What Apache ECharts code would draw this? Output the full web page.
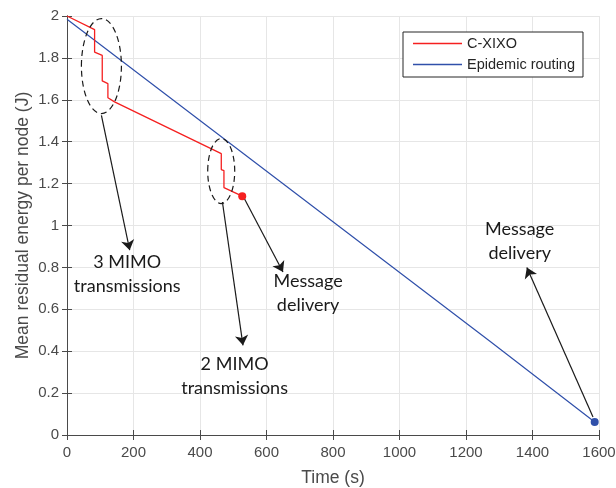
<!DOCTYPE html>
<html>
<head>
<meta charset="utf-8">
<script src="https://cdn.jsdelivr.net/npm/echarts@6/dist/echarts.min.js"></script>
<style>html,body{margin:0;padding:0;background:#fff}#c{width:616px;height:488px}</style>
</head>
<body>
<div id="c"></div>
<script>
// ---- data ----
var cxixoData = [[0,2.0],[83,1.935],[83,1.828],[106,1.812],[106,1.69],[123,1.677],[123,1.61],[143,1.59],[464,1.343],[464,1.267],[472,1.262],[472,1.181],[476,1.178],[527,1.14]];
var epidemicData = [[0,1.984],[1270,0.45],[1587,0.062]];
var xTicks = [0,200,400,600,800,1000,1200,1400,1600];
var yTicks = [0,0.2,0.4,0.6,0.8,1,1.2,1.4,1.6,1.8,2];
var seriesNames = ['C-XIXO','Epidemic routing'];
// annotations (data units)
var arrows = [[[103.5,1.526],[188.6,0.882]],[[467.4,1.112],[529.3,0.428]],[[534.4,1.125],[649.6,0.778]],[[1582,0.086],[1383,0.799]]];
var notes = [
  {text:'3 MIMO\ntransmissions', at:[181,0.767]},
  {text:'2 MIMO\ntransmissions', at:[504,0.283]},
  {text:'Message\ndelivery', at:[725,0.675]},
  {text:'Message\ndelivery', at:[1361.5,0.925]}
];
var ellipses = [{at:[103.5,1.761], rx:20, ry:47.5},{at:[463.8,1.26], rx:13.5, ry:32.5}];

var chart = echarts.init(document.getElementById('c'), null, {renderer:'canvas'});
var axisCol = '#4a4a4a';
var FONT = "'Liberation Sans', Arial, sans-serif";
var option = {
  animation:false,
  grid:{left:67,right:17,top:16,bottom:53,containLabel:false,outerBoundsMode:'none'},
  legend:{
    data:seriesNames, orient:'vertical', left:403, top:32,
    icon:'rect', itemWidth:49, itemHeight:1.5, itemGap:6,
    padding:[4,8,5,10], borderColor:'#262626', borderWidth:1, borderRadius:0,
    backgroundColor:'#fff',
    textStyle:{fontFamily:FONT, fontSize:14.5, color:'#262626'}
  },
  xAxis:[{
    type:'value', min:0, max:1600, interval:200,
    name:'Time (s)', nameLocation:'middle', nameGap:34, nameMoveOverlap:false,
    nameTextStyle:{fontFamily:FONT, fontSize:17.5, color:axisCol},
    axisLine:{show:true,lineStyle:{color:axisCol,width:1}},
    axisTick:{show:true,inside:true,length:5,lineStyle:{color:axisCol}},
    axisLabel:{fontFamily:FONT, fontSize:15, color:axisCol, margin:10,
      formatter:function(v){return String(v);}},
    splitLine:{show:true,lineStyle:{color:'#e6e6e6',width:1}}
  },{
    type:'value', position:'top', min:0, max:1600, interval:200,
    axisLine:{show:true,lineStyle:{color:axisCol,width:1}},
    axisTick:{show:true,inside:true,length:5,lineStyle:{color:axisCol}},
    axisLabel:{show:false}, splitLine:{show:false}
  }],
  yAxis:[{
    type:'value', min:0, max:2, interval:0.2,
    name:'Mean residual energy per node (J)', nameLocation:'middle', nameGap:35, nameMoveOverlap:false,
    nameTextStyle:{fontFamily:FONT, fontSize:17.5, color:axisCol},
    axisLine:{show:true,lineStyle:{color:axisCol,width:1}},
    axisTick:{show:true,inside:true,length:5,lineStyle:{color:axisCol}},
    axisLabel:{fontFamily:FONT, fontSize:15, color:axisCol, margin:8,
      formatter:function(v){return String(Math.round(v*10)/10);}},
    splitLine:{show:true,lineStyle:{color:'#e6e6e6',width:1}}
  },{
    type:'value', position:'right', min:0, max:2, interval:0.2,
    axisLine:{show:true,lineStyle:{color:axisCol,width:1}},
    axisTick:{show:true,inside:true,length:5,lineStyle:{color:axisCol}},
    axisLabel:{show:false}, splitLine:{show:false}
  }],
  series:[{
    name:seriesNames[0], type:'line', xAxisIndex:0, yAxisIndex:0,
    data:cxixoData.map(function(p,i){
      return i===cxixoData.length-1 ? {value:p, symbol:'circle', symbolSize:8} : {value:p, symbol:'none'};
    }),
    color:'#f52020', lineStyle:{color:'#f52020',width:1.3},
    itemStyle:{color:'#f52020'}, z:3,
    markLine:{
      silent:true, symbol:['none','arrow'], symbolSize:10,
      lineStyle:{color:'#1a1a1a',type:'solid',width:1.2}, label:{show:false},
      data:arrows.map(function(a){return [{coord:a[0]},{coord:a[1]}];})
    },
    markPoint:{
      silent:true, symbol:'circle', symbolSize:0,
      data:notes.map(function(n){return {coord:n.at, label:{show:true, position:'inside', formatter:n.text,
        fontFamily:'Lato', fontSize:18, lineHeight:24, color:'#1a1a1a', align:'center', verticalAlign:'middle'}};})
    }
  },{
    name:seriesNames[1], type:'line', xAxisIndex:0, yAxisIndex:0,
    data:epidemicData.map(function(p,i){
      return i===epidemicData.length-1 ? {value:p, symbol:'circle', symbolSize:8} : {value:p, symbol:'none'};
    }),
    color:'#3050aa', lineStyle:{color:'#3050aa',width:1.2}, itemStyle:{color:'#3050aa'}, z:2
  }]
};
chart.setOption(option);
var g = ellipses.map(function(e){
  var p = chart.convertToPixel({xAxisIndex:0,yAxisIndex:0}, e.at);
  return {type:'ellipse', shape:{cx:p[0],cy:p[1],rx:e.rx,ry:e.ry}, silent:true, z:10,
    style:{fill:'none', stroke:'#1a1a1a', lineWidth:1.2, lineDash:[6,4]}};
});
chart.setOption({graphic:g});
</script>
</body>
</html>
